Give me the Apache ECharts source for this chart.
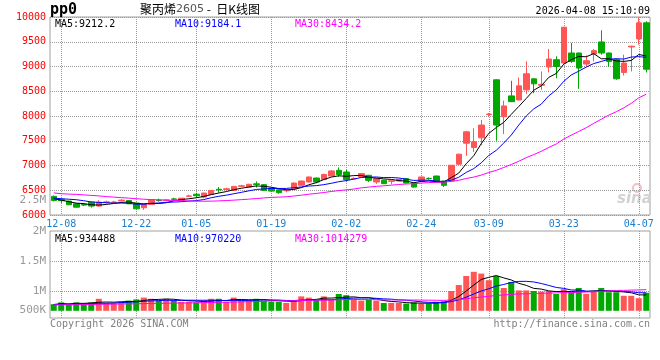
<!DOCTYPE html>
<html><head><meta charset="utf-8">
<script src="https://cdn.jsdelivr.net/npm/echarts@6/dist/echarts.min.js"></script>
<style>html,body{margin:0;padding:0;background:#fff}#c{width:660px;height:360px}</style>
</head><body><div id="c"></div>
<script>
const dates = ['12-05','12-08','12-09','12-10','12-11','12-12','12-15','12-16','12-17','12-18','12-19','12-22','12-23','12-24','12-25','12-26','12-29','12-30','12-31',
'01-05','01-06','01-07','01-08','01-09','01-12','01-13','01-14','01-15','01-16','01-19','01-20','01-21','01-22','01-23','01-26','01-27','01-28','01-29','01-30',
'02-02','02-03','02-04','02-05','02-06','02-09','02-10','02-11','02-12','02-13','02-24','02-25','02-26','02-27',
'03-02','03-03','03-04','03-05','03-06','03-09','03-10','03-11','03-12','03-13','03-16','03-17','03-18','03-19','03-20','03-23','03-24','03-25','03-26','03-27','03-30','03-31',
'04-01','04-02','04-03','04-07','04-08'];
const opens  = [6376,6315,6280,6227,6215,6260,6180,6255,6255,6285,6294,6240,6146,6213,6300,6295,6325,6294,6378,6420,
6362,6416,6520,6515,6497,6580,6565,6630,6613,6540,6510,6490,6530,6600,6667,6747,6715,6788,6903,6869,
6730,6768,6802,6667,6700,6680,6686,6735,6646,6680,6740,6787,6686,6686,7025,7450,7364,7560,8030,8731,
7985,8406,8325,8528,8751,8620,8990,9137,9070,9273,9273,9050,9253,9496,9273,9137,8880,9395,9557,9882];
const closes = [6294,6290,6207,6158,6200,6180,6260,6265,6262,6300,6227,6125,6213,6308,6290,6305,6318,6340,6385,6390,
6443,6497,6505,6530,6578,6590,6620,6615,6497,6483,6450,6500,6646,6686,6768,6667,6817,6890,6817,6715,
6740,6837,6700,6735,6633,6690,6720,6646,6565,6768,6735,6667,6600,7005,7228,7680,7478,7817,8040,7817,
8203,8290,8609,8853,8650,8640,9151,9000,9793,9103,8969,9117,9320,9273,9103,8751,9070,9410,9882,8945];
const lows   = [6275,6240,6200,6150,6180,6150,6170,6230,6240,6270,6220,6115,6105,6205,6270,6280,6300,6285,6370,6350,
6340,6410,6450,6490,6490,6560,6555,6555,6490,6470,6430,6460,6520,6590,6660,6640,6705,6780,6770,6670,
6715,6760,6665,6630,6625,6620,6680,6640,6555,6670,6715,6660,6565,6680,7015,7194,7275,7411,7990,7500,
7635,8280,8315,8447,8460,8528,8880,8765,9060,9070,8548,9000,9103,9239,9000,8731,8818,8900,9442,8880];
const highs  = [6395,6330,6290,6235,6240,6265,6300,6290,6285,6320,6300,6245,6220,6315,6330,6320,6350,6345,6410,6450,
6450,6505,6565,6550,6585,6610,6630,6680,6625,6550,6515,6520,6655,6695,6775,6755,6835,6910,6960,6910,
6760,6845,6810,6745,6710,6700,6730,6745,6655,6775,6760,6795,6695,7010,7240,7700,7750,7919,8060,8740,
8310,8711,8778,9103,8760,8900,9354,9205,9800,9476,9280,9225,9354,9732,9280,9160,9239,9420,9984,9915];
const volumes = [780000,810000,780000,810000,790000,810000,870000,800000,800000,820000,840000,860000,890000,870000,840000,870000,840000,820000,820000,810000,
840000,870000,870000,820000,890000,840000,850000,870000,840000,820000,820000,800000,850000,910000,890000,850000,910000,850000,950000,930000,
870000,840000,850000,840000,800000,800000,800000,790000,810000,790000,790000,820000,830000,1000000,1100000,1250000,1320000,1290000,1180000,1250000,
1050000,1150000,1010000,1010000,1000000,990000,1000000,950000,1030000,980000,1050000,950000,1000000,1050000,980000,980000,920000,920000,880000,970000];

// moving-average values for days before a full window exists
const ma5Head  = [6330,6300,6270,6240];
const ma10Head = [6341,6329,6319,6309,6288,6264,6254,6248,6240];
const ma30Head = [6447,6430,6422,6416,6406,6396,6386,6372,6361,6351,6341,6329,6319,6311,6307,6300,6294,6288,6284,6280,6278,6280,6285,6292,6300,6310,6320,6332,6344];
const volMa5Head  = [775000,790000,785000,795000];
const volMa10Head = [772000,778000,780000,783000,786000,790000,795000,796000,798000];
const volMa30Head = [768000,770000,771000,771000,773000,776000,778000,779000,781000,784000,786000,787000,790000,793000,794000,796000,799000,800000,801000,803000,806000,808000,811000,812000,815000,819000,821000,824000,828000];

const xLabelDates = ['12-08','12-22','01-05','01-19','02-02','02-24','03-09','03-23','04-07'];
const priceMaLegend  = ['MA5:9212.2','MA10:9184.1','MA30:8434.2'];
const volumeMaLegend = ['MA5:934488','MA10:970220','MA30:1014279'];
const volTickValues = [2000000,1500000,1000000,675000];
const volTickLabels = ['2M','1.5M','1M','500K'];
const volGridValues = [1500000,1000000];
const VOLUME_FLOOR = 670000;

function movingAverage(values, n, head) {
  return values.map((v, i) => {
    if (i < n - 1) return head[i];
    let s = 0;
    for (let k = i - n + 1; k <= i; k++) s += values[k];
    return +(s / n).toFixed(2);
  });
}

const RED = '#ff5555', GREEN = '#00a800';
const MONO = '"DejaVu Sans Mono", "Liberation Mono", monospace';
const isUp = i => closes[i] > opens[i] || (closes[i] === opens[i] && (i === 0 || closes[i] >= closes[i-1]));
const showDate = (idx, val) => xLabelDates.indexOf(val) >= 0;

const chart = echarts.init(document.getElementById('c'), null, {renderer: 'canvas'});
const dotted = () => ({color: '#9a9a9a', type: 'dotted', width: 1, opacity: 1});

chart.setOption({
  animation: false,
  backgroundColor: '#fff',
  grid: [
    {left: 50, right: 10, top: 17, bottom: 145, show: true, backgroundColor: 'rgba(0,0,0,0)', borderColor: '#a0a0a0', borderWidth: 1},
    {left: 50, right: 10, top: 231, bottom: 42, show: true, backgroundColor: 'rgba(0,0,0,0)', borderColor: '#a0a0a0', borderWidth: 1}
  ],
  xAxis: [
    {type: 'category', gridIndex: 0, data: dates, boundaryGap: true, z: 1,
     axisLine: {show: false}, axisTick: {show: false, interval: showDate, alignWithLabel: true},
     axisLabel: {interval: showDate, color: '#1a7fd0', fontFamily: MONO, fontSize: 10, margin: 4,
                 showMinLabel: true, hideOverlap: false},
     splitLine: {show: true, interval: showDate, alignWithLabel: true, lineStyle: dotted()}},
    {type: 'category', gridIndex: 1, data: dates, boundaryGap: true, z: 1,
     axisLine: {show: false}, axisTick: {show: false, interval: showDate, alignWithLabel: true},
     axisLabel: {show: false},
     splitLine: {show: true, interval: showDate, alignWithLabel: true, lineStyle: dotted()}}
  ],
  yAxis: [
    {type: 'value', gridIndex: 0, min: 6000, max: 10000, interval: 500, z: 1,
     axisLine: {show: false}, axisTick: {show: false},
     axisLabel: {color: '#ff0000', fontFamily: MONO, fontSize: 10, margin: 4, formatter: v => String(v),
                 verticalAlign: 'middle', lineHeight: 10, padding: [0, 0, 4, 0]},
     splitLine: {show: true, lineStyle: dotted()}},
    {type: 'value', gridIndex: 1, min: 550000, max: 2000000, z: 1,
     axisLine: {show: false},
     axisTick: {show: false, customValues: volGridValues},
     axisLabel: {color: '#999', fontFamily: MONO, fontSize: 11, margin: 4,
       customValues: volTickValues,
       formatter: v => { const k = volTickValues.indexOf(v); return k >= 0 ? volTickLabels[k] : ''; }},
     splitLine: {show: true, lineStyle: dotted()}}
  ],
  series: [
    {type: 'candlestick', name: 'K', xAxisIndex: 0, yAxisIndex: 0, barWidth: 6, z: 3,
     data: dates.map((d, i) => [opens[i], closes[i], lows[i], highs[i]]),
     itemStyle: {color: RED, color0: GREEN, borderColor: RED, borderColor0: GREEN, borderWidth: 1}},
    {type: 'line', name: 'MA5', data: movingAverage(closes, 5, ma5Head), showSymbol: false, symbol: 'none',
     lineStyle: {color: '#000', width: 1}, z: 5},
    {type: 'line', name: 'MA10', data: movingAverage(closes, 10, ma10Head), showSymbol: false, symbol: 'none',
     lineStyle: {color: '#0000ff', width: 1}, z: 5},
    {type: 'line', name: 'MA30', data: movingAverage(closes, 30, ma30Head), showSymbol: false, symbol: 'none',
     lineStyle: {color: '#ff00ff', width: 1}, z: 5},
    {type: 'bar', name: 'volFloor', xAxisIndex: 1, yAxisIndex: 1, stack: 'vol', barWidth: 6, silent: true, z: 3,
     data: volumes.map(() => VOLUME_FLOOR), itemStyle: {color: 'rgba(0,0,0,0)'}},
    {type: 'bar', name: 'VOL', xAxisIndex: 1, yAxisIndex: 1, stack: 'vol', barWidth: 6, z: 3,
     data: volumes.map(v => v - VOLUME_FLOOR),
     itemStyle: {color: p => isUp(p.dataIndex) ? RED : GREEN}},
    {type: 'line', name: 'VMA5', xAxisIndex: 1, yAxisIndex: 1, data: movingAverage(volumes, 5, volMa5Head),
     showSymbol: false, symbol: 'none', lineStyle: {color: '#000', width: 1}, z: 5},
    {type: 'line', name: 'VMA10', xAxisIndex: 1, yAxisIndex: 1, data: movingAverage(volumes, 10, volMa10Head),
     showSymbol: false, symbol: 'none', lineStyle: {color: '#0000ff', width: 1}, z: 5},
    {type: 'line', name: 'VMA30', xAxisIndex: 1, yAxisIndex: 1, data: movingAverage(volumes, 30, volMa30Head),
     showSymbol: false, symbol: 'none', lineStyle: {color: '#ff00ff', width: 1}, z: 5}
  ],
  graphic: [
    {type: 'text', x: 50, y: 10, style: {text: 'pp0', font: 'bold 15px ' + MONO, fill: '#000', verticalAlign: 'middle'}},
    {type: 'text', x: 140, y: 9, style: {text: '{a|聚丙烯}{b|2605}{a| -  日K线图}', verticalAlign: 'middle',
      rich: {a: {fontFamily: '"Noto Sans CJK SC"', fontSize: 12, fill: '#000'},
             b: {fontFamily: '"DejaVu Sans"', fontSize: 11, fill: '#555'}}}},
    {type: 'text', x: 650, y: 11, style: {text: '2026-04-08 15:10:09', font: '10px ' + MONO, fill: '#000', align: 'right', verticalAlign: 'middle'}},
    {type: 'text', x: 55, y: 24, style: {text: priceMaLegend[0], font: '10px ' + MONO, fill: '#000', verticalAlign: 'middle'}},
    {type: 'text', x: 175, y: 24, style: {text: priceMaLegend[1], font: '10px ' + MONO, fill: '#0000ff', verticalAlign: 'middle'}},
    {type: 'text', x: 295, y: 24, style: {text: priceMaLegend[2], font: '10px ' + MONO, fill: '#ff00ff', verticalAlign: 'middle'}},
    {type: 'text', x: 46, y: 200, style: {text: '2.5M', font: '11px ' + MONO, fill: '#999', align: 'right', verticalAlign: 'middle'}},
    {type: 'text', x: 55, y: 239, style: {text: volumeMaLegend[0], font: '10px ' + MONO, fill: '#000', verticalAlign: 'middle'}},
    {type: 'text', x: 175, y: 239, style: {text: volumeMaLegend[1], font: '10px ' + MONO, fill: '#0000ff', verticalAlign: 'middle'}},
    {type: 'text', x: 295, y: 239, style: {text: volumeMaLegend[2], font: '10px ' + MONO, fill: '#ff00ff', verticalAlign: 'middle'}},
    {type: 'text', x: 50, y: 324, style: {text: 'Copyright 2026 SINA.COM', font: '10px ' + MONO, fill: '#808080', verticalAlign: 'middle'}},
    {type: 'text', x: 650, y: 324, style: {text: 'http://finance.sina.com.cn', font: '10px ' + MONO, fill: '#808080', align: 'right', verticalAlign: 'middle'}},
    {type: 'circle', shape: {cx: 637, cy: 188, r: 4}, style: {fill: 'none', stroke: '#f2c0c0', lineWidth: 2}},
    {type: 'text', x: 617, y: 199, style: {text: 'sina', font: 'italic bold 15px "DejaVu Sans"', fill: '#d2d2d2', verticalAlign: 'middle'}}
  ]
});
</script>
</body></html>
